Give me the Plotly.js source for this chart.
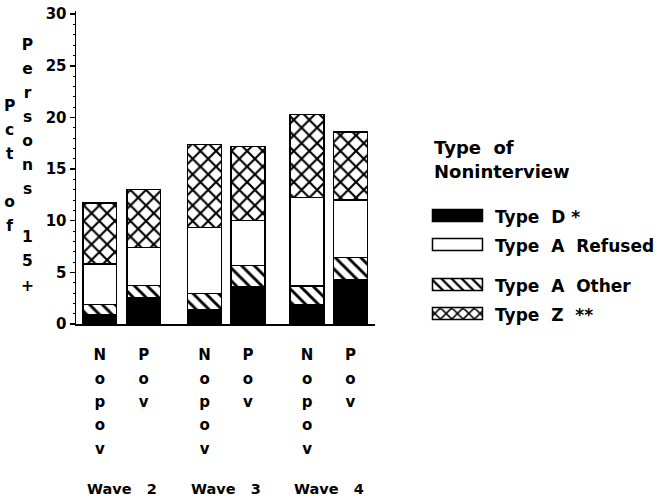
<!DOCTYPE html>
<html>
<head>
<meta charset="utf-8">
<script src="https://cdn.plot.ly/plotly-3.0.1.min.js"></script>
<style>
  html, body { margin: 0; padding: 0; background: #ffffff; }
  #chart { width: 668px; height: 501px; }
</style>
</head>
<body>
<div id="chart"></div>
<script>
// ---- data ----
const categories = ["Nopov", "Pov", "Nopov", "Pov", "Nopov", "Pov"];
const xpos = [0, 1, 2.39, 3.38, 4.73, 5.72];
const waves = ["Wave 2", "Wave 3", "Wave 4"];
const waveCenters = [0.5, 2.885, 5.225];
const typeD = [0.9, 2.55, 1.35, 3.6, 1.85, 4.3];
const typeAOther = [1.0, 1.2, 1.6, 2.05, 1.85, 2.15];
const typeARefused = [3.9, 3.65, 6.4, 4.35, 8.55, 5.55];
const typeZ = [5.9, 5.6, 8.05, 7.2, 8.05, 6.6];
const legendNames = ["Type\u00a0\u00a0D\u00a0*", "Type\u00a0\u00a0A\u00a0\u00a0Refused", "Type\u00a0\u00a0A\u00a0\u00a0Other", "Type\u00a0\u00a0Z\u00a0\u00a0**"];
const legendTitle = ["Type\u00a0\u00a0of", "Noninterview"];
const yTitleCol1 = ["P", "c", "t", "\u00a0", "o", "f"];
const yTitleCol2 = ["P", "e", "r", "s", "o", "n", "s", "\u00a0", "1", "5", "+"];

const FONT = "DejaVu Sans, Arial, sans-serif";
const line = { color: "#000000", width: 1.5 };
const barW = 0.77;

function vertical(letters, px) {
  return letters.map(ch => `<span style="font-size:${px}px">${ch}</span>`).join("<br>");
}
function legendLabel(t) {
  return `<span style="font-size:17px">${t}</span>`;
}

const traces = [
  { name: legendLabel(legendNames[0]), y: typeD, legendgroup: "g1",
    marker: { color: "#000000", line: line } },
  { name: legendLabel(legendNames[2]), y: typeAOther, legendgroup: "g2",
    marker: { color: "#ffffff", line: line,
      pattern: { shape: "\\", size: 9, solidity: 0.32, fgcolor: "#000000", bgcolor: "#ffffff", fillmode: "replace" } } },
  { name: legendLabel(legendNames[1]), y: typeARefused, legendgroup: "g1",
    marker: { color: "#ffffff", line: line } },
  { name: legendLabel(legendNames[3]), y: typeZ, legendgroup: "g2",
    marker: { color: "#ffffff", line: line,
      pattern: { shape: "x", size: 11, solidity: 0.35, fgcolor: "#000000", bgcolor: "#ffffff", fillmode: "replace" } } }
].map(t => Object.assign({ type: "bar", x: xpos, width: barW, hoverinfo: "y+name" }, t));

const annotations = [];
waves.forEach((w, i) => {
  annotations.push({
    text: w.replace(" ", "\u00a0\u00a0\u00a0"), x: waveCenters[i], xref: "x",
    y: -0.527, yref: "paper", yanchor: "middle", xanchor: "center",
    showarrow: false, font: { family: FONT, size: 14.5, weight: "bold", color: "#000" }
  });
});
annotations.push({
  text: vertical(yTitleCol1, 15.5), xref: "paper", yref: "paper",
  x: -0.221, y: 0.505, xanchor: "center", yanchor: "middle", showarrow: false,
  font: { family: FONT, size: 18.5, weight: "bold", color: "#000" }
});
annotations.push({
  text: vertical(yTitleCol2, 15.5), xref: "paper", yref: "paper",
  x: -0.161, y: 0.505, xanchor: "center", yanchor: "middle", showarrow: false,
  font: { family: FONT, size: 18.5, weight: "bold", color: "#000" }
});
// legend heading
annotations.push({
  text: legendTitle.map(t => `<span style="font-size:18px">${t}</span>`).join("<br>"),
  xref: "paper", yref: "paper", x: 1.19, y: 0.524, xanchor: "left", yanchor: "middle",
  align: "left", showarrow: false,
  font: { family: FONT, size: 18.5, weight: "bold", color: "#000" }
});

const layout = {
  width: 668, height: 501,
  margin: { l: 76, r: 293, t: 11, b: 177, pad: 0, autoexpand: false },
  paper_bgcolor: "#ffffff", plot_bgcolor: "#ffffff",
  barmode: "stack",
  font: { family: FONT, color: "#000000" },
  xaxis: {
    range: [-0.545, 6.28], showgrid: false, zeroline: false,
    showline: true, linecolor: "#000", linewidth: 1.5,
    ticks: "", tickvals: xpos, ticklabelstandoff: 13,
    ticktext: categories.map(c => vertical(c.split(""), 15)),
    tickfont: { family: FONT, size: 18, weight: "bold", color: "#000" },
    tickangle: 0
  },
  yaxis: {
    range: [0, 30.3], showgrid: false, zeroline: false,
    showline: true, linecolor: "#000", linewidth: 1.5,
    ticks: "outside", ticklen: 5, tickwidth: 1.5, tickcolor: "#000",
    tickvals: [0, 5, 10, 15, 20, 25, 30],
    tickfont: { family: FONT, size: 15, weight: "bold", color: "#000" },
    minor: { ticks: "outside", ticklen: 2, tickwidth: 1, tickcolor: "#000", dtick: 1 }
  },
  showlegend: true,
  legend: {
    xref: "container", yref: "container",
    x: 0.6287, xanchor: "left", y: 0.6088, yanchor: "top",
    traceorder: "grouped", tracegroupgap: 11, itemwidth: 65,
    bgcolor: "rgba(0,0,0,0)", borderwidth: 0,
    font: { family: FONT, size: 20, weight: "bold", color: "#000" }
  },
  annotations: annotations
};

Plotly.newPlot("chart", traces, layout, { staticPlot: true, displayModeBar: false }).then(gd => {
  gd.querySelectorAll(".legend .legendpoints path").forEach(p => {
    p.setAttribute("d", "M-25,-6H25V6H-25Z");
  });
});
</script>
</body>
</html>
